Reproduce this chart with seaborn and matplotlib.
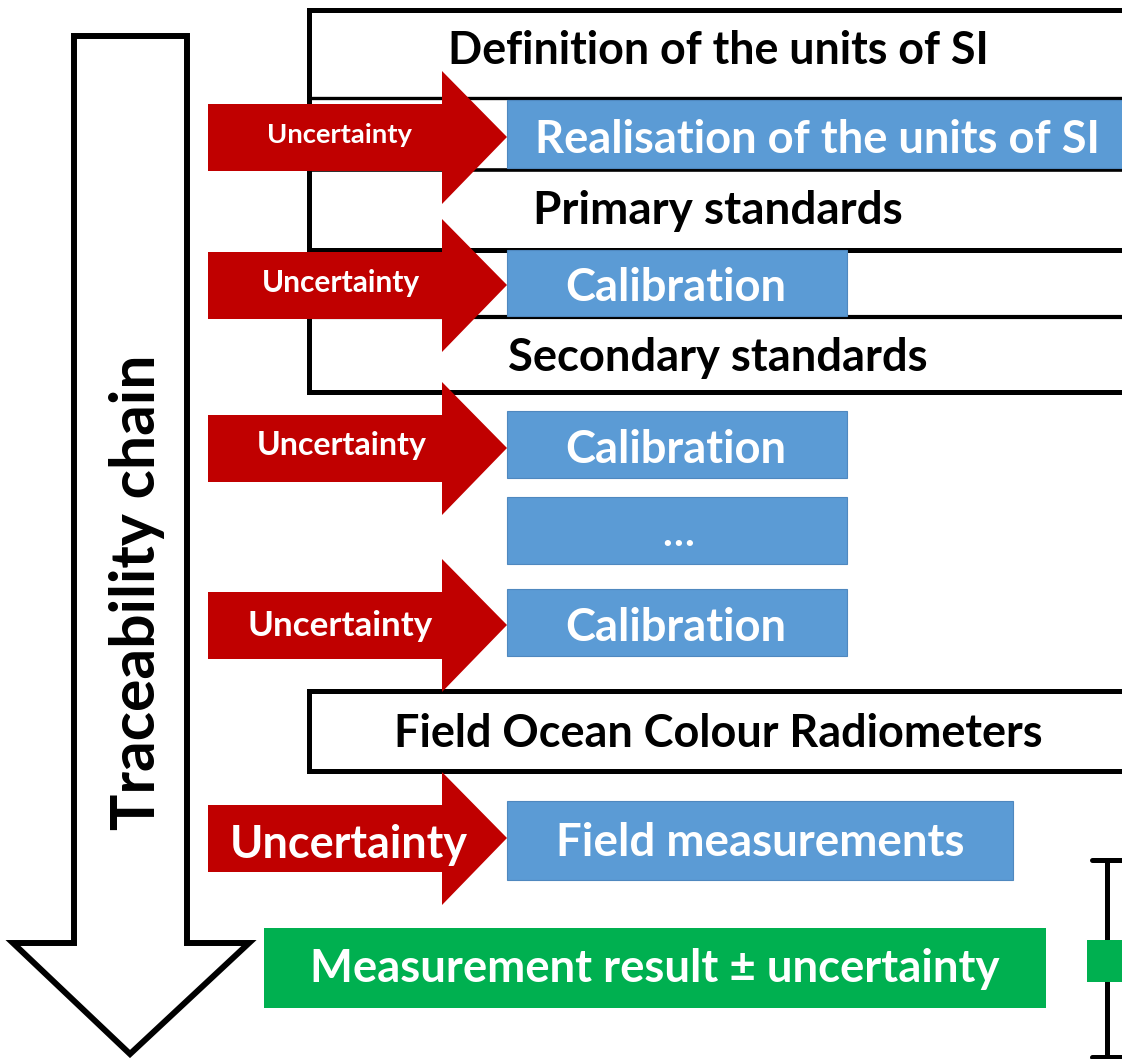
import matplotlib
matplotlib.use("Agg")
import matplotlib.pyplot as plt
import seaborn as sns
from matplotlib.patches import Polygon, Rectangle

sns.set_style("white")
plt.rcParams['font.family'] = ['Lato', 'DejaVu Sans']

# ---- content ----
chain_label = "Traceability chain"
level_labels = ["Definition of the units of SI", "Primary standards",
                "Secondary standards", "Field Ocean Colour Radiometers"]
step_labels = ["Realisation of the units of SI", "Calibration", "Calibration",
               "\u2026", "Calibration", "Field measurements"]
arrow_label = "Uncertainty"
result_label = "Measurement result \u00b1 uncertainty"

RED = "#C00000"
BLUE = "#5B9BD5"
BLUE_EDGE = "#4F88BF"
GREEN = "#00B050"

W, H = 1122, 1059
fig = plt.figure(figsize=(W / 100, H / 100), dpi=100)
ax = fig.add_axes([0, 0, 1, 1])
ax.set_xlim(0, W)
ax.set_ylim(H, 0)
ax.axis("off")
renderer = fig.canvas.get_renderer()

DY = 3  # small downward nudge so text sits like the reference


def fit_text(x, y, s, target, color="black", rotation=0, size0=20):
    t = ax.text(x, y + (0 if rotation else DY), s, ha="center", va="center",
                color=color, fontweight="bold", fontsize=size0,
                rotation=rotation, zorder=10)
    bb = t.get_window_extent(renderer=renderer)
    cur = bb.height if rotation else bb.width
    t.set_fontsize(size0 * target / cur)
    return t


LW = 3.6  # ~5 px

# ---- traceability down arrow ----
ax.add_patch(Polygon([(74, 36), (187, 36), (187, 943), (249, 943), (130, 1054),
                      (13, 943), (74, 943)], closed=True, fc="white", ec="black",
                     lw=4.3, joinstyle="miter", zorder=2))
fit_text(137, 592, chain_label, 475, rotation=90)

# ---- upper stacked box ----
ax.add_patch(Rectangle((309, 10), 900, 382, fc="white", ec="black", lw=LW, zorder=1))
for yy, lw in [(98, 2.4), (170, 2.6), (250, 3.6), (317, 3.0)]:
    ax.plot([309, 1200], [yy, yy], color="black", lw=lw, zorder=1.5, solid_capstyle="butt")

# ---- field radiometer box ----
ax.add_patch(Rectangle((309, 691), 900, 80, fc="white", ec="black", lw=LW, zorder=1))

# ---- level texts ----
level_pos = [(718, 48, 543), (718, 208, 370), (718, 355, 420), (718, 731, 650)]
for s, (x, y, w) in zip(level_labels, level_pos):
    fit_text(x, y, s, w)

# ---- blue step boxes ----
step_boxes = [(507, 100, 640, 68), (507, 250, 340, 66), (507, 411, 340, 67),
              (507, 497, 340, 67), (507, 589, 340, 67), (507, 801, 506, 79)]
step_text = [(817, 137, 565), (676, 285, 221), (676, 447, 221),
             (678, 532, 32), (676, 625, 221), (760, 840, 409)]
for s, (x0, y0, w, h), (tx, ty, tw) in zip(step_labels, step_boxes, step_text):
    ax.add_patch(Rectangle((x0, y0), w, h, fc=BLUE, ec=BLUE_EDGE, lw=0.8, zorder=3))
    fit_text(tx, ty, s, tw, color="white")

# ---- red uncertainty arrows ----
arrow_centers = [137, 285, 448, 625, 838]
arrow_text = [(340, 132, 145), (341, 280, 158), (342, 443, 170),
              (340, 623, 185), (349, 842, 238)]
for cy, (tx, ty, tw) in zip(arrow_centers, arrow_text):
    ax.add_patch(Polygon([(208, cy - 33), (442, cy - 33), (442, cy - 66),
                          (507, cy), (442, cy + 67), (442, cy + 34), (208, cy + 34)],
                         closed=True, fc=RED, ec="none", zorder=4))
    fit_text(tx, ty, arrow_label, tw, color="white")

# ---- result box ----
ax.add_patch(Rectangle((264, 928), 782, 80, fc=GREEN, ec="none", zorder=3))
fit_text(655, 966, result_label, 690, color="white")

# ---- error bar symbol ----
ax.plot([1107, 1107], [860, 1057], color="black", lw=LW, zorder=3)
ax.plot([1092, 1130], [860, 860], color="black", lw=LW, zorder=3)
ax.plot([1092, 1130], [1057, 1057], color="black", lw=LW, zorder=3)
ax.add_patch(Rectangle((1087, 940), 50, 42, fc=GREEN, ec="none", zorder=4))

fig.savefig("out.png", dpi=100, facecolor="white")
